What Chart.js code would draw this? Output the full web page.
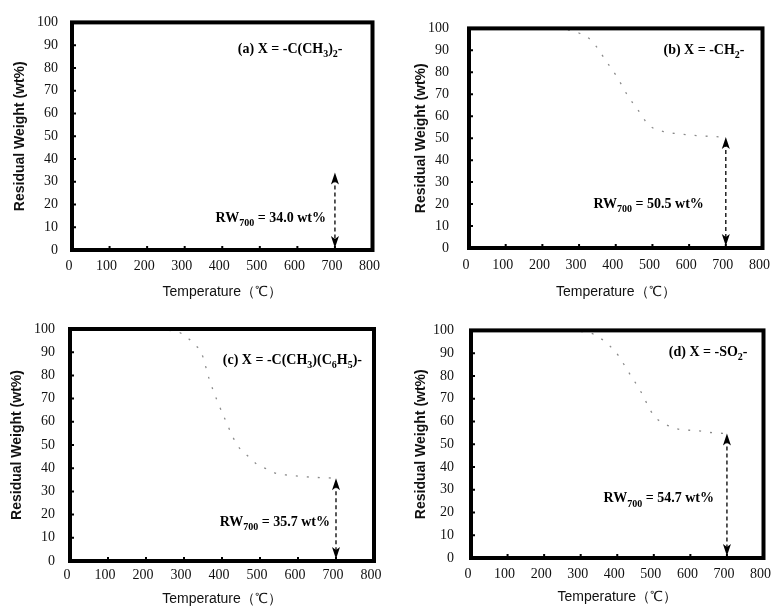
<!DOCTYPE html>
<html>
<head>
<meta charset="utf-8">
<script src="https://cdn.jsdelivr.net/npm/chart.js@4.4.1/dist/chart.umd.min.js"></script>
<style>
  body { margin: 0; background: #fff; }
  .wrap { position: relative; width: 782px; height: 610px; }
  canvas { position: absolute; }
</style>
</head>
<body>
<div class="wrap">
  <canvas id="panelA" width="391" height="305" style="left:0;top:0"></canvas>
  <canvas id="panelB" width="391" height="305" style="left:391px;top:0"></canvas>
  <canvas id="panelC" width="391" height="305" style="left:0;top:305px"></canvas>
  <canvas id="panelD" width="391" height="305" style="left:391px;top:305px"></canvas>
</div>
<script>
// axis ticks
const tempTicks = [0, 100, 200, 300, 400, 500, 600, 700, 800];
const weightTicks = [0, 10, 20, 30, 40, 50, 60, 70, 80, 90, 100];

// TGA curves (panel a curve is not visible in the reference)
const aTemp = [];
const aWeight = [];
const bTemp = [0, 100, 200, 280, 305, 334, 376, 403, 434, 460, 490, 530, 570, 620, 660, 700];
const bWeight = [100, 100, 100, 99, 97.5, 94.4, 84.6, 78, 69, 63, 56, 53, 52, 51.2, 50.8, 50.5];
const cTemp = [0, 100, 200, 280, 303, 330, 346, 366, 385, 403, 440, 470, 491, 520, 547, 577, 620, 665, 700];
const cWeight = [100, 100, 99.8, 99, 97, 93, 89.7, 78.6, 70, 63, 50, 45, 41.8, 39.5, 37.5, 37, 36.3, 35.9, 35.7];
const dTemp = [0, 200, 300, 334, 396, 431, 463, 500, 529, 571, 614, 662, 700];
const dWeight = [100, 100, 99.5, 98.4, 90.4, 81.7, 73.5, 62.6, 59, 56.5, 56, 55, 54.7];

// residual weight at 700 C
const rw700 = [34.0, 50.5, 35.7, 54.7];

const serif = '"Liberation Serif", "Times New Roman", serif';
const sans = '"Liberation Sans", Arial, sans-serif';

// draw text with subscripts, right aligned at xRight
function drawRich(ctx, parts, xRight, yMid, size) {
    const main = `bold ${size}px ${serif}`;
    const sub = `bold ${Math.round(size * 0.68)}px ${serif}`;
    let w = 0;
    parts.forEach(([t, s]) => { ctx.font = s ? sub : main; w += ctx.measureText(t).width; });
    let x = xRight - w;
    ctx.textAlign = 'left';
    ctx.textBaseline = 'middle';
    parts.forEach(([t, s]) => {
        ctx.font = s ? sub : main;
        ctx.fillText(t, x, s ? yMid + size * 0.38 : yMid);
        x += ctx.measureText(t).width;
    });
}

function arrowHead(ctx, x, y, dir) {
    // dir = -1 points up, 1 points down
    ctx.beginPath();
    ctx.moveTo(x, y);
    ctx.lineTo(x - 4, y - dir * 12);
    ctx.lineTo(x, y - dir * 9);
    ctx.lineTo(x + 4, y - dir * 12);
    ctx.closePath();
    ctx.fill();
}

const framePlugin = {
    id: 'frame',
    afterDatasetsDraw(chart, args, opts) {
        const { ctx, chartArea: a, scales: { x, y } } = chart;
        ctx.save();
        ctx.strokeStyle = '#000';
        ctx.fillStyle = '#000';

        // small inward ticks
        ctx.lineWidth = 2;
        ctx.beginPath();
        tempTicks.forEach(t => {
            const px = x.getPixelForValue(t);
            ctx.moveTo(px, a.bottom);
            ctx.lineTo(px, a.bottom - 4);
        });
        weightTicks.forEach(v => {
            const py = y.getPixelForValue(v);
            ctx.moveTo(a.left, py);
            ctx.lineTo(a.left + 4, py);
        });
        ctx.stroke();

        // thick frame
        ctx.lineWidth = 4;
        ctx.strokeRect(a.left, a.top, a.right - a.left, a.bottom - a.top);

        // double arrow at 700 C
        const ax = x.getPixelForValue(700);
        const yTop = y.getPixelForValue(opts.rw);
        const yBot = y.getPixelForValue(0) - 2;
        ctx.lineWidth = 1.3;
        ctx.setLineDash([4, 3]);
        ctx.beginPath();
        ctx.moveTo(ax, yTop + 6);
        ctx.lineTo(ax, yBot - 6);
        ctx.stroke();
        ctx.setLineDash([]);
        arrowHead(ctx, ax, yTop, -1);
        arrowHead(ctx, ax, yBot, 1);

        // labels
        drawRich(ctx, opts.title, a.right - opts.titleRight, a.top + opts.titleTop, 14);
        const rwParts = [['RW', 0], ['700', 1], [' = ' + opts.rw.toFixed(1) + ' wt%', 0]];
        drawRich(ctx, rwParts, ax - opts.rwGap, y.getPixelForValue(opts.rwY), 14);
        ctx.restore();
    }
};

function makePanel(id, temps, weights, cfg) {
    const points = temps.map((t, i) => ({ x: t, y: weights[i] }));
    return new Chart(document.getElementById(id), {
        type: 'line',
        data: {
            datasets: [{
                data: points,
                borderColor: '#8a8a8a',
                borderWidth: 1.3,
                borderDash: [2, 9],
                pointRadius: 0,
                cubicInterpolationMode: 'monotone',
                fill: false
            }]
        },
        options: {
            responsive: false,
            devicePixelRatio: 1,
            animation: false,
            layout: { padding: { left: 0, top: cfg.area.t, right: 391 - cfg.area.r, bottom: 0 } },
            plugins: {
                legend: { display: false },
                tooltip: { enabled: false },
                frame: {
                    rw: cfg.rw, rwY: cfg.rwY, rwGap: cfg.rwGap,
                    title: cfg.title, titleRight: cfg.titleRight, titleTop: cfg.titleTop
                }
            },
            scales: {
                x: {
                    type: 'linear', min: 0, max: 800,
                    grid: { display: false, drawTicks: false },
                    border: { display: false },
                    ticks: {
                        stepSize: 100, padding: cfg.xPad, color: '#111', maxRotation: 0,
                        labelOffset: -3,
                        font: { family: serif, size: 14 }
                    },
                    title: {
                        display: true, text: 'Temperature（℃）', color: '#111',
                        font: { family: sans, size: 14 },
                        padding: { top: 0, bottom: cfg.xTitlePad }
                    },
                    afterFit(scale) { scale.height = 305 - cfg.area.b; }
                },
                y: {
                    min: 0, max: 100,
                    grid: { display: false, drawTicks: false },
                    border: { display: false },
                    ticks: {
                        stepSize: 10, padding: cfg.yPad, color: '#111',
                        font: { family: serif, size: 14 }
                    },
                    title: {
                        display: true, text: 'Residual Weight (wt%)', color: '#111',
                        font: { family: sans, size: 14, weight: 'bold' },
                        padding: { top: cfg.yTitleX - 8.4, bottom: 0 }
                    },
                    afterFit(scale) { scale.width = cfg.area.l; }
                }
            }
        },
        plugins: [framePlugin]
    });
}

makePanel('panelA', aTemp, aWeight, {
    area: { l: 72, t: 20, r: 377, b: 250 }, xPad: 8, xTitlePad: 4, yPad: 14, yTitleX: 20,
    rw: rw700[0], rwY: 14, rwGap: 9, titleRight: 30, titleTop: 27,
    title: [['(a) X = -C(CH', 0], ['3', 1], [')', 0], ['2', 1], ['-', 0]]
});
makePanel('panelB', bTemp, bWeight, {
    area: { l: 78, t: 16, r: 380, b: 248 }, xPad: 9, xTitlePad: 4, yPad: 20, yTitleX: 30,
    rw: rw700[1], rwY: 19.8, rwGap: 22, titleRight: 18, titleTop: 22,
    title: [['(b) X = -CH', 0], ['2', 1], ['-', 0]]
});
makePanel('panelC', cTemp, cWeight, {
    area: { l: 70, t: 24, r: 374, b: 256 }, xPad: 6, xTitlePad: 2, yPad: 15, yTitleX: 17,
    rw: rw700[2], rwY: 16.8, rwGap: 6, titleRight: 12, titleTop: 31,
    title: [['(c) X = -C(CH', 0], ['3', 1], [')(C', 0], ['6', 1], ['H', 0], ['5', 1], [')-', 0]]
});
makePanel('panelD', dTemp, dWeight, {
    area: { l: 80, t: 23, r: 381, b: 253 }, xPad: 8, xTitlePad: 4, yPad: 17, yTitleX: 30,
    rw: rw700[3], rwY: 26, rwGap: 13, titleRight: 16, titleTop: 22,
    title: [['(d) X = -SO', 0], ['2', 1], ['-', 0]]
});
</script>
</body>
</html>
